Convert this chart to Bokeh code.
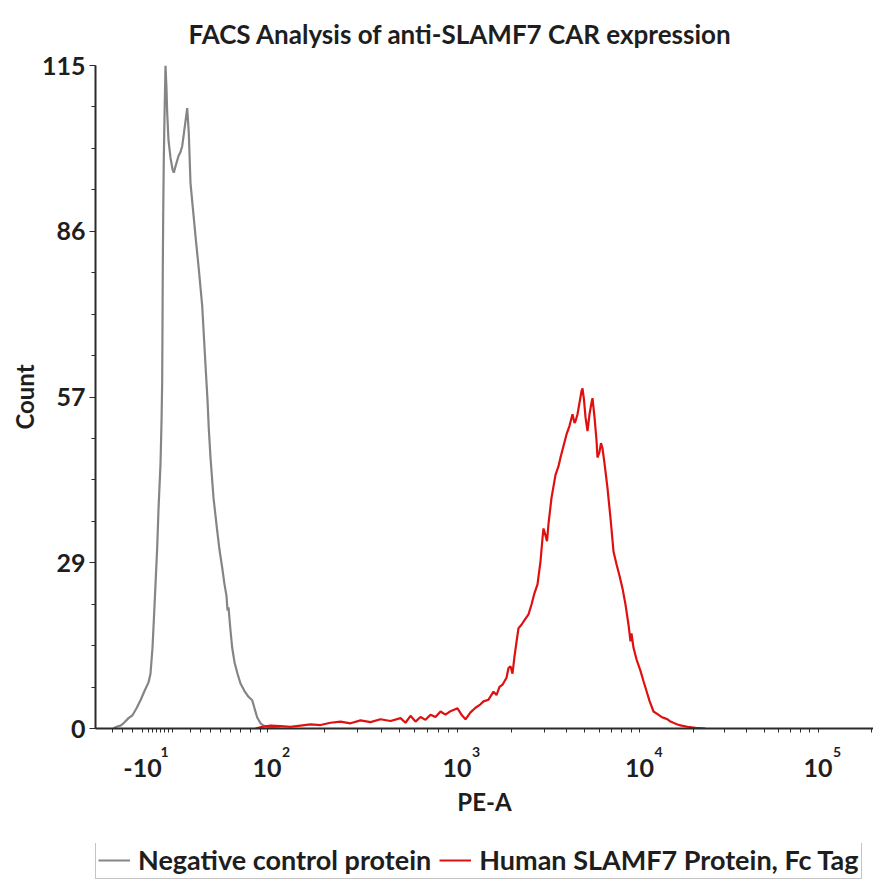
import numpy as np
from bokeh.plotting import figure
from bokeh.layouts import column
from bokeh.models import Range1d, FixedTicker, Legend, LegendItem, LinearAxis
from bokeh.embed import file_html
from bokeh.resources import INLINE

# PE-A position is given in display channels of the biexponential axis (0 = axis origin)
neg_x = [18, 21, 25, 28, 33, 37, 41, 45, 49, 53, 55, 57, 58.3, 60, 61.7, 63, 65, 66, 66.7, 67,
         67.3, 67.7, 68.3, 69, 70, 71, 71.7, 73, 75, 77, 78.3, 80, 83, 85, 86.7, 89, 91.7, 93.3,
         95, 97.5, 100, 103.3, 106.7, 110, 112, 113.3, 115, 118, 121.7, 124, 126.7, 129, 131,
         132, 133, 135, 136.7, 139, 142, 145, 149, 153, 156.7, 159, 161.7, 165, 168, 172, 177, 185]
neg_count = [0, 0.3, 0.5, 0.9, 1.8, 2.3, 3.5, 4.9, 6.5, 8.0, 9.5, 14, 18.7, 25, 31.4, 38, 45.9, 53,
             60.3, 70, 80, 89, 98.8, 106, 115, 111, 106.8, 102, 99, 97, 96.4, 97.5, 99.3, 100, 101,
             104, 107.6, 103.3, 94.6, 90, 85.4, 79.7, 73.3, 63, 57, 52, 47, 40, 34.3, 31, 27.9, 25,
             23, 20.5, 21, 17, 14, 11.5, 9.5, 7.8, 6.5, 5.5, 4.9, 3.5, 1.9, 0.9, 0.5, 0.3, 0.1, 0]

pos_x = [160, 167, 175, 185, 195, 205, 215, 225, 235, 245, 255, 265, 275, 285, 295, 305, 310, 315,
         320, 325, 330, 335, 340, 345, 350, 355, 362, 366, 370, 375, 380, 385, 388, 393, 398, 401,
         404, 407, 411, 413, 415, 417, 419, 421, 423, 426, 429, 433, 436, 439, 442, 445, 447, 448,
         450, 451.5, 453, 456, 458, 460, 463, 465, 468, 471, 474, 477, 479, 480, 482, 484, 486,
         487, 488.5, 490, 492, 494, 496, 497, 499, 501, 502, 504, 505.5, 507, 509, 512, 515, 518,
         521, 524, 527, 530, 533, 535, 536, 538, 541, 545, 548, 551, 554, 558, 562, 566, 569, 572,
         575, 579, 582, 586, 592, 600, 610]
pos_count = [0, 0.3, 0.5, 0.4, 0.3, 0.5, 0.7, 0.6, 1.0, 1.2, 0.9, 1.4, 1.1, 1.6, 1.3, 1.8, 1.0, 2.2,
             1.2, 2.0, 1.5, 2.4, 2.0, 2.95, 2.4, 3.0, 3.5, 2.4, 1.6, 2.8, 3.6, 4.2, 4.7, 5.0, 6.4, 5.8,
             7.2, 7.6, 8.8, 10.5, 10.8, 9.5, 12.5, 15.0, 17.4, 18.0, 18.8, 19.8, 21.5, 23.5, 25.0, 29.0,
             33.0, 34.7, 33.5, 32.5, 35.5, 40, 42, 44, 45.5, 47, 49, 51, 52.5, 54.5, 53, 53.3, 54.5,
             56.5, 58.5, 59, 57, 54, 51.6, 54.5, 56.5, 57.3, 54, 50, 47, 48, 49.5, 48.6, 46, 41.7,
             36.5, 30.7, 28.5, 26.5, 24.3, 21.5, 18, 15.1, 16.5, 14, 12, 10, 8.2, 6.5, 4.8, 2.95, 2.5,
             2.0, 1.8, 1.6, 1.2, 0.9, 0.7, 0.5, 0.3, 0.1, 0]

x_tick_pos = [47, 171.5, 361.5, 544, 722.5]
x_tick_base = ["-10", "10", "10", "10", "10"]
x_tick_exp = ["1", "2", "3", "4", "5"]
y_ticks = [0.0, 28.75, 57.5, 86.25, 115.0]
y_tick_labels = ["0", "29", "57", "86", "115"]
series_names = ["Negative control protein", "Human SLAMF7 Protein, Fc Tag"]
series_colors = ["#858585", "#e01010"]

FONT = "Lato"
TXT = "#1e1e1e"
AX = "#2b2b2b"
XMAX = 778
W = 873
H_MAIN = 843
H_LEG = 36

p = figure(width=W, height=H_MAIN, output_backend="svg", toolbar_location=None,
           x_range=Range1d(0, XMAX), y_range=Range1d(0, 115),
           min_border_left=95, min_border_right=0, min_border_top=65, min_border_bottom=115,
           title="FACS Analysis of anti-SLAMF7 CAR expression")
p.outline_line_color = None
p.xgrid.visible = False
p.ygrid.visible = False

p.title.align = "left"
p.title.offset = 93
p.title.vertical_align = "top"
p.title.standoff = 27
p.title.text_font = FONT
p.title.text_font_style = "bold"
p.title.text_font_size = "26px"
p.title.text_color = TXT

r_neg = p.line(neg_x, neg_count, line_color=series_colors[0], line_width=2.2)
r_pos = p.line(pos_x, pos_count, line_color=series_colors[1], line_width=2.2)

# ---- x axis: line + ticks + exponents (nearest), then bases + axis title
minor_x = []
for a, b in zip(x_tick_pos[1:-1], x_tick_pos[2:]):
    minor_x += [a + (b - a) * np.log10(k) for k in range(2, 10)]
d = x_tick_pos[-1] - x_tick_pos[-2]
minor_x += [x_tick_pos[-1] + d * np.log10(k) for k in range(2, 10) if x_tick_pos[-1] + d * np.log10(k) < XMAX]
minor_x += [x_tick_pos[0] - 10 * i for i in range(1, 4)]
minor_x += list(np.arange(53, 80, 4.0)) + list(np.arange(95, 171, 10.0))

exp_pos = [t + (22 if b.startswith("-") else 19) for t, b in zip(x_tick_pos, x_tick_base)]

xa = p.below[0]
xa.ticker = FixedTicker(ticks=exp_pos, minor_ticks=minor_x + x_tick_pos)
xa.major_label_overrides = {t: e for t, e in zip(exp_pos, x_tick_exp)}
xa.axis_line_color = AX
xa.axis_line_width = 2
xa.major_tick_line_color = None
xa.major_tick_out = 0
xa.major_tick_in = 0
xa.minor_tick_line_color = AX
xa.minor_tick_out = 4
xa.minor_tick_in = 0
xa.major_label_standoff = 14
xa.major_label_text_font = FONT
xa.major_label_text_font_style = "bold"
xa.major_label_text_font_size = "14px"
xa.major_label_text_color = TXT

xb = LinearAxis(ticker=FixedTicker(ticks=x_tick_pos, minor_ticks=[]),
                major_label_overrides={t: lab for t, lab in zip(x_tick_pos, x_tick_base)})
xb.axis_line_color = None
xb.major_tick_line_color = None
xb.minor_tick_line_color = None
xb.major_tick_out = 0
xb.major_tick_in = 0
xb.minor_tick_out = 0
xb.minor_tick_in = 0
xb.major_label_standoff = -1
xb.major_label_text_font = FONT
xb.major_label_text_font_style = "bold"
xb.major_label_text_font_size = "25px"
xb.major_label_text_color = TXT
xb.axis_label = "PE-A"
xb.axis_label_standoff = 7
xb.axis_label_text_font = FONT
xb.axis_label_text_font_style = "bold"
xb.axis_label_text_font_size = "24px"
xb.axis_label_text_color = TXT
p.add_layout(xb, "below")

# ---- y axis
ya = p.left[0]
minor_y = [i * 115 / 16 for i in range(17)]
ya.ticker = FixedTicker(ticks=y_ticks, minor_ticks=minor_y)
ya.major_label_overrides = {t: lab for t, lab in zip(y_ticks, y_tick_labels)}
ya.axis_label = "Count"
ya.axis_line_color = AX
ya.axis_line_width = 2
ya.major_tick_line_color = AX
ya.minor_tick_line_color = AX
ya.major_tick_out = 6
ya.major_tick_in = 0
ya.minor_tick_out = 4
ya.minor_tick_in = 0
ya.major_label_standoff = 4
ya.major_label_text_font = FONT
ya.major_label_text_font_style = "bold"
ya.major_label_text_font_size = "25px"
ya.major_label_text_color = TXT
ya.axis_label_standoff = 0
ya.axis_label_text_font = FONT
ya.axis_label_text_font_style = "bold"
ya.axis_label_text_font_size = "24px"
ya.axis_label_text_color = TXT

# ---- legend strip (its frame is aligned with the main plot's frame)
pl = figure(width=W, height=H_LEG, output_backend="svg", toolbar_location=None,
            x_axis_type=None, y_axis_type=None, x_range=Range1d(0, 1), y_range=Range1d(0, 1),
            min_border=0, min_border_left=0, min_border_right=0, min_border_top=0, min_border_bottom=0)
pl.outline_line_color = None
pl.xgrid.visible = False
pl.ygrid.visible = False
# proxy renderers kept outside the visible range: only their legend glyphs show
lr = [pl.line(x=[5, 6], y=[5, 6], line_color=c, line_width=2.2) for c in series_colors]
legend = Legend(items=[LegendItem(label=n, renderers=[r]) for n, r in zip(series_names, lr)],
                orientation="horizontal", location=(0, 0),
                border_line_color="#8a8a8a", border_line_width=1,
                padding=2, spacing=8, margin=0, glyph_width=32, glyph_height=28,
                label_height=28, label_standoff=8, label_text_font=FONT,
                label_text_font_style="bold", label_text_font_size="27px",
                label_text_color=TXT, background_fill_color="white", background_fill_alpha=1)
pl.add_layout(legend)

layout = column(p, pl, spacing=0)
open("out.html", "w").write(file_html(layout, INLINE))
